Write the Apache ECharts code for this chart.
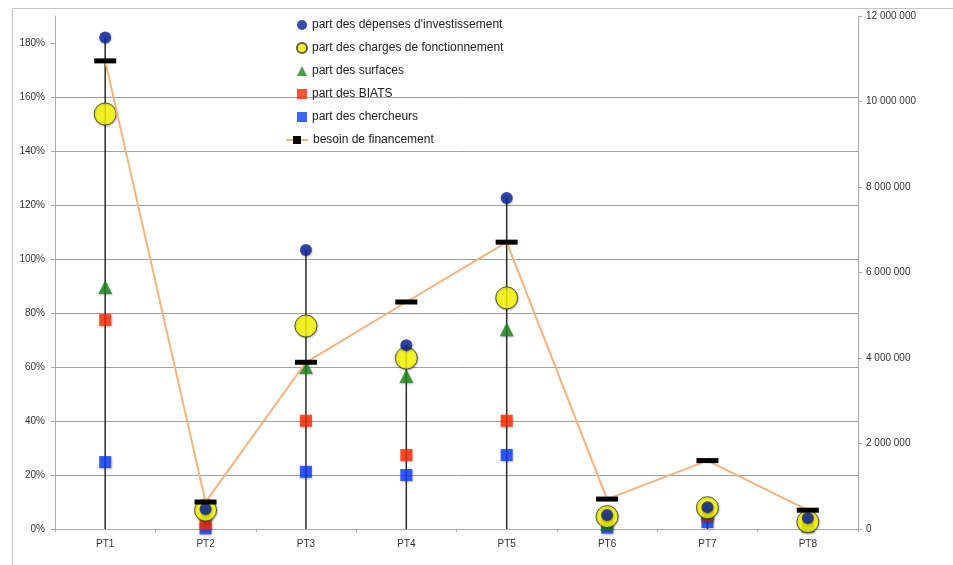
<!DOCTYPE html>
<html>
<head>
<meta charset="utf-8">
<title>Besoin de financement par PT</title>
<script src="https://cdn.jsdelivr.net/npm/echarts@6/dist/echarts.min.js"></script>
<style>
  html, body { margin: 0; padding: 0; background: #ffffff; }
  #chart { width: 953px; height: 565px; }
</style>
</head>
<body>
<div id="chart"></div>
<script>
// Catégories et valeurs (parts en fraction, besoin en euros)
const categories = ['PT1', 'PT2', 'PT3', 'PT4', 'PT5', 'PT6', 'PT7', 'PT8'];
const partInvestissement = [1.82, 0.074, 1.033, 0.681, 1.226, 0.052, 0.081, 0.041];
const partFonctionnement = [1.537, 0.07, 0.752, 0.633, 0.856, 0.046, 0.079, 0.027];
const partSurfaces = [0.896, 0.06, 0.60, 0.567, 0.74, 0.02, 0.06, 0.02];
const partBiats = [0.774, 0.019, 0.401, 0.274, 0.401, 0.03, 0.05, 0.02];
const partChercheurs = [0.248, 0.002, 0.212, 0.20, 0.274, 0.005, 0.026, 0.01];
const besoinFinancement = [10950000, 630000, 3900000, 5310000, 6710000, 700000, 1600000, 440000];

// Graduations des axes
const pctTicks = [0, 0.2, 0.4, 0.6, 0.8, 1.0, 1.2, 1.4, 1.6, 1.8];

const names = {
  inv: "part des dépenses d'investissement",
  fonc: 'part des charges de fonctionnement',
  surf: 'part des surfaces',
  biats: 'part des BIATS',
  cherch: 'part des chercheurs',
  besoin: 'besoin de financement'
};

const fontFamily = '"Liberation Sans", "DejaVu Sans", Arial, sans-serif';
const shadow = { shadowBlur: 2, shadowColor: 'rgba(0,0,0,0.35)', shadowOffsetX: 0.5, shadowOffsetY: 1 };
const legendText = { fontSize: 12, color: '#222', fontFamily: fontFamily };

function spaced(v) {
  return String(Math.round(v)).replace(/\B(?=(\d{3})+(?!\d))/g, ' ');
}

const chart = echarts.init(document.getElementById('chart'), null, { renderer: 'canvas' });

chart.setOption({
  animation: false,
  backgroundColor: '#ffffff',
  textStyle: { fontFamily: fontFamily },
  graphic: [{
    type: 'rect',
    silent: true,
    shape: { x: 12.5, y: 8.5, width: 1000, height: 600 },
    style: { fill: 'none', stroke: '#c4c4c4', lineWidth: 1 }
  }],
  legend: [{
    // marqueurs des parts
    orient: 'vertical',
    left: 291,
    top: 14,
    itemWidth: 10,
    itemHeight: 10,
    itemGap: 11,
    textStyle: legendText,
    data: [names.inv, names.fonc, names.surf, names.biats, names.cherch]
  }, {
    // courbe du besoin de financement
    orient: 'vertical',
    left: 280,
    top: 129,
    itemWidth: 22,
    itemHeight: 10,
    textStyle: legendText,
    data: [names.besoin]
  }],
  grid: { left: 55, right: 95, top: 16, bottom: 36, containLabel: false },
  xAxis: {
    type: 'category',
    data: categories,
    boundaryGap: true,
    axisLine: { lineStyle: { color: '#aaaaaa', width: 1 } },
    axisTick: { show: true, length: 3, lineStyle: { color: '#aaaaaa' } },
    axisLabel: { fontSize: 10, color: '#333', margin: 10 }
  },
  yAxis: [{
    type: 'value',
    min: 0,
    max: 1.9,
    interval: 0.2,
    position: 'left',
    axisLine: { show: true, lineStyle: { color: '#aaaaaa', width: 1 } },
    axisTick: { show: true, length: 4, customValues: pctTicks, lineStyle: { color: '#aaaaaa' } },
    axisLabel: {
      fontSize: 10, color: '#333', margin: 10,
      customValues: pctTicks,
      formatter: function (v) { return v > 1.85 ? '' : Math.round(v * 100) + '%'; }
    },
    splitLine: { show: true, showMinLine: false, showMaxLine: false, lineStyle: { color: '#a0a0a0', width: 1 } }
  }, {
    type: 'value',
    min: 0,
    max: 12000000,
    interval: 2000000,
    position: 'right',
    axisLine: { show: true, lineStyle: { color: '#aaaaaa', width: 1 } },
    axisTick: { show: true, length: 4, lineStyle: { color: '#aaaaaa' } },
    axisLabel: { fontSize: 10, color: '#333', margin: 8, formatter: spaced },
    splitLine: { show: false }
  }],
  series: [{
    // lignes de projection depuis la part des investissements jusqu'à l'axe
    type: 'bar',
    name: 'projection',
    data: partInvestissement,
    barWidth: 1.5,
    silent: true,
    itemStyle: { color: '#2a2a2a' },
    z: 1
  }, {
    type: 'scatter',
    name: names.cherch,
    data: partChercheurs,
    symbol: 'rect',
    symbolSize: 12,
    itemStyle: Object.assign({ color: '#0a3cff' }, shadow),
    z: 3
  }, {
    type: 'scatter',
    name: names.biats,
    data: partBiats,
    symbol: 'rect',
    symbolSize: 12,
    itemStyle: Object.assign({ color: '#ff2a00' }, shadow),
    z: 3
  }, {
    type: 'scatter',
    name: names.surf,
    data: partSurfaces,
    symbol: 'triangle',
    symbolSize: 14,
    itemStyle: Object.assign({ color: '#1a8a1a' }, shadow),
    z: 3
  }, {
    type: 'scatter',
    name: names.fonc,
    data: partFonctionnement,
    symbol: 'circle',
    symbolSize: 22,
    itemStyle: Object.assign({ color: '#ffff00', borderColor: '#333', borderWidth: 1 }, shadow),
    z: 4
  }, {
    type: 'scatter',
    name: names.inv,
    data: partInvestissement,
    symbol: 'circle',
    symbolSize: 12,
    itemStyle: Object.assign({ color: '#08209a' }, shadow),
    z: 5
  }, {
    type: 'line',
    name: names.besoin,
    yAxisIndex: 1,
    data: besoinFinancement,
    symbol: 'rect',
    symbolSize: [22, 5],
    showSymbol: true,
    lineStyle: { color: '#f9b27a', width: 2 },
    itemStyle: { color: '#000000' },
    z: 6
  }]
});
</script>
</body>
</html>
